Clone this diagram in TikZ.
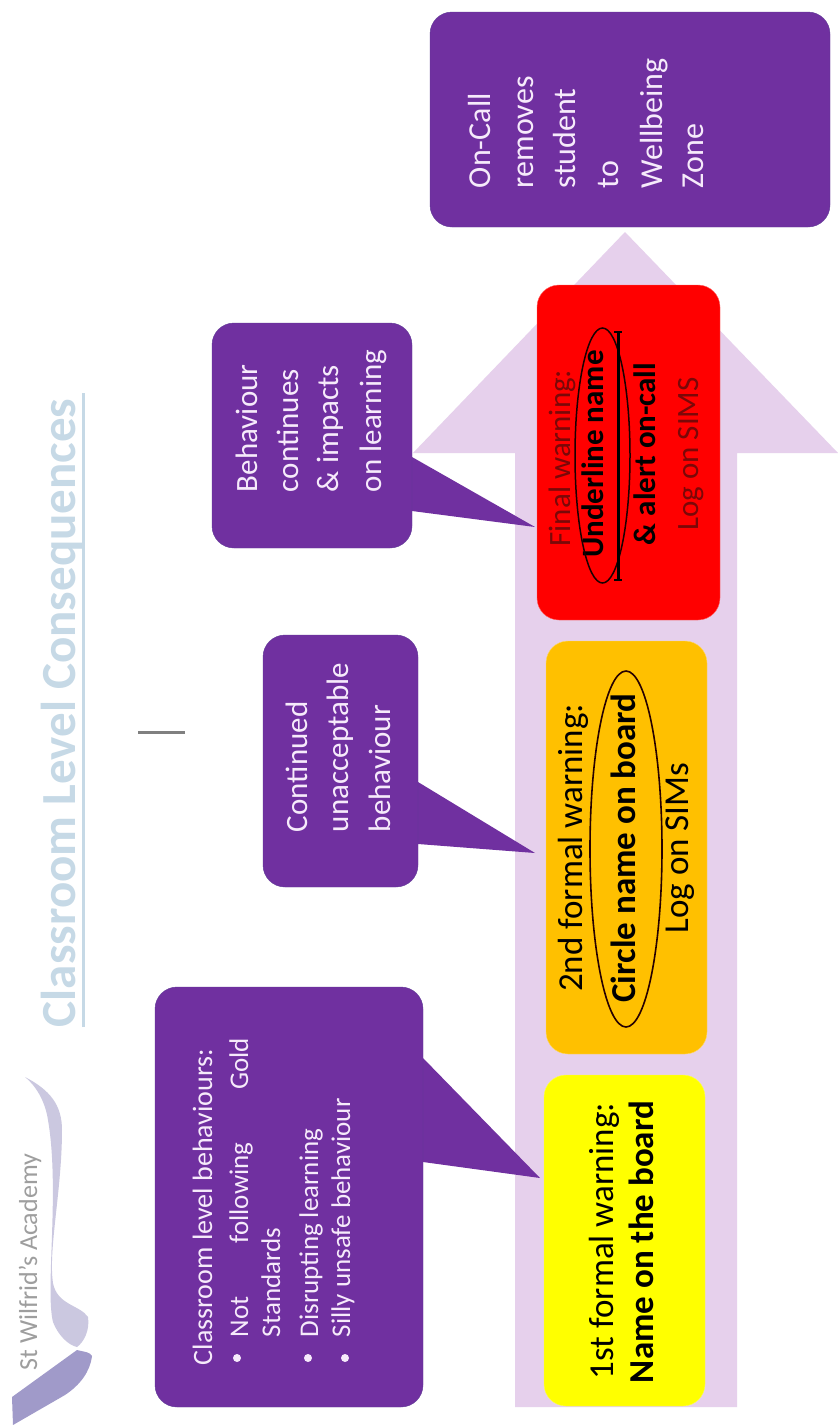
\documentclass[tikz,border=0pt]{standalone}
\usepackage{fontspec}
\setmainfont{Carlito}
\usepackage{tikz}
\definecolor{arrowfill}{HTML}{E6D0EC}
\definecolor{purp}{HTML}{7030A0}
\definecolor{purpedge}{HTML}{5F3A96}
\definecolor{gold}{HTML}{FFC000}
\definecolor{pureyellow}{HTML}{FFFF00}
\definecolor{purered}{HTML}{FF0000}
\definecolor{dimred}{HTML}{7A0808}
\definecolor{titleblue}{HTML}{C6D9E6}
\definecolor{lav}{HTML}{CBC8E0}
\definecolor{lavd}{HTML}{A09AC9}
\definecolor{paletxt}{HTML}{F6EAFB}
\tikzset{
  vtext/.style={rotate=90,inner sep=0pt,outer sep=0pt,text=#1},
  vtext/.default=black,
  card/.style={rounded corners=22pt},
  wtext/.style={vtext=paletxt,font=\fontsize{#1}{#1}\selectfont,anchor=base west},
  ctext/.style={vtext=black,font=\fontsize{#1}{#1}\selectfont,anchor=base},
  btext/.style={vtext=black,font=\fontsize{#1}{#1}\selectfont\bfseries,anchor=base},
  rtext/.style={vtext=dimred,font=\fontsize{#1}{#1}\selectfont,anchor=base},
}
\begin{document}
\begin{tikzpicture}[x=1pt,y=-1pt]
\useasboundingbox (0,0) rectangle (838,1425);
\fill[white] (0,0) rectangle (838,1425);
% big arrow
\fill[arrowfill] (515,1407) -- (515,453) -- (413,453) -- (625,232) -- (838,453) -- (737,453) -- (737,1407) -- cycle;
% logo
\fill[lav] (25,1077) .. controls (50,1090) and (62,1105) .. (62,1130) .. controls (62,1190) and (48,1250) .. (53,1283) .. controls (57,1305) and (80,1305) .. (88,1317) .. controls (90,1330) and (84,1342) .. (77,1347) .. controls (68,1345) and (58,1335) .. (53,1322) .. controls (45,1290) and (60,1190) .. (48,1120) .. controls (45,1100) and (35,1085) .. (25,1077) -- cycle;
\fill[lavd] (12,1397) -- (77,1350) .. controls (85,1352) and (90,1352) .. (92,1356) .. controls (90,1372) and (80,1385) .. (65,1395) -- (13,1425) -- cycle;
\node[vtext=black!38,font=\fontsize{26}{26}\selectfont,anchor=base west] (logotext) at (37,1370) {St Wilfrid's Academy};
% title
\node[vtext=titleblue,font=\fontsize{49}{49}\selectfont\bfseries,anchor=base west] (title) at (75,1027) {Classroom Level Consequences};
\draw[titleblue,line width=3pt] (83,1027) -- (83,393);
% grey dash
\draw[black!50,line width=3pt] (138,732) -- (185,732);
% callouts
\fill[purp] (423,1058) -- (540,1178) -- (423,1162) -- cycle;
\fill[purp] (418,782) -- (535,853) -- (418,844) -- cycle;
\fill[purp] (412,457) -- (535,527) -- (412,511) -- cycle;
\draw[purpedge,fill=purp,card] (155,987) rectangle (423,1407);
\draw[purpedge,fill=purp,card] (263,635) rectangle (418,887);
\draw[purpedge,fill=purp,card] (212,323) rectangle (412,548);
\draw[purpedge,fill=purp,card] (430,12) rectangle (830,227);
% warning cards
\draw[pureyellow!70!white,fill=pureyellow,card] (544,1075) rectangle (705,1406);
\draw[gold!60!white,fill=gold,card] (546,641) rectangle (707,1054);
\draw[purered!60!white,fill=purered,card] (537,285) rectangle (720,620);
% callout 1 text
\node[wtext=28] (c1a) at (212,1365) {Classroom level behaviours:};
\node[wtext=27] (c1b) at (248,1337) {\makebox[299pt][s]{Not\hfill following\hfill Gold}};
\node[wtext=27] (c1c) at (280,1337) {Standards};
\node[wtext=27] (c1d) at (318,1337) {Disrupting learning};
\node[wtext=27] (c1e) at (350,1337) {Silly unsafe behaviour};
\fill[paletxt] (237,1358) circle (4);
\fill[paletxt] (308,1358) circle (4);
\fill[paletxt] (345,1358) circle (4);
% callout 2 text
\node[wtext=31] (c2a) at (307,832) {Continued};
\node[wtext=31] (c2b) at (348,832) {unacceptable};
\node[wtext=31] (c2c) at (390,832) {behaviour};
% callout 3 text
\node[wtext=31] (c3a) at (257,492) {Behaviour};
\node[wtext=31] (c3b) at (298,492) {continues};
\node[wtext=31] (c3c) at (338,492) {\& impacts};
\node[wtext=31] (c3d) at (381,492) {on learning};
% on-call text
\node[wtext=32] (oc1) at (490,188) {On-Call};
\node[wtext=32] (oc2) at (533,188) {removes};
\node[wtext=32] (oc3) at (575,188) {student};
\node[wtext=32] (oc4) at (618,188) {to};
\node[wtext=32] (oc5) at (662,188) {Wellbeing};
\node[wtext=32] (oc6) at (703,188) {Zone};
% yellow
\node[ctext=35] (y1) at (613,1241) {1st formal warning:};
\node[btext=35] (y2) at (653,1242) {Name on the board};
% orange
\node[ctext=35] (o1) at (582,848) {2nd formal warning:};
\node[btext=35] (o2) at (635,848) {Circle name on board};
\node[ctext=35] (o3) at (688,848) {Log on SIMs};
\draw[black!85!red,line width=1.6pt] (626,849) ellipse [x radius=36,y radius=178];
% red
\node[rtext=31] (r1) at (570,458) {Final warning:};
\node[btext=31] (r2) at (603,454) {Underline name};
\node[btext=31] (r3) at (655,454) {\& alert on-call};
\node[rtext=31] (r4) at (698,454) {Log on SIMS};
\draw[black!90!red,line width=1.5pt] (602.5,455.5) ellipse [x radius=27.5,y radius=127.5];
\draw[black,line width=3pt] (618,332) -- (618,580);
\draw[black,line width=1.2pt] (614,332) -- (622,332);
\draw[black,line width=1.2pt] (614,580) -- (622,580);
\end{tikzpicture}
\end{document}
